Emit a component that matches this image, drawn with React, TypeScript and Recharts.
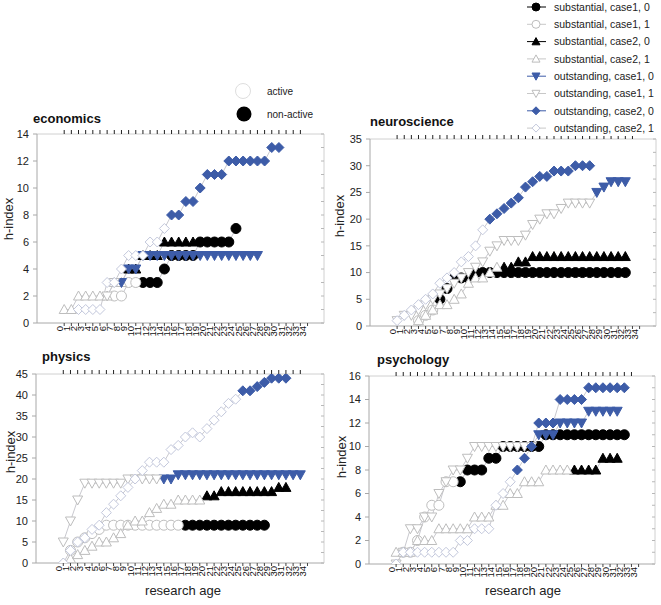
import React from 'react';
import { LineChart, Line, XAxis, YAxis } from 'recharts';

const FONT = '"Liberation Sans", Arial, Helvetica, sans-serif';
const BLUE = '#3d5ca8';
const HOLLOW = '#bdbdbd';
const HOLLOW_D = '#c3c8dc';
const LINE = '#c9c9cf';
const n = null;

const researchAges = [0, 1, 2, 3, 4, 5, 6, 7, 8, 9, 10, 11, 12, 13, 14, 15, 16, 17, 18, 19, 20, 21, 22, 23, 24, 25, 26, 27, 28, 29, 30, 31, 32, 33, 34];
const topTickAges = [0, 1, 2, 3, 4, 5, 6, 7, 8, 9, 10, 11, 12, 13, 14, 15, 16, 17, 18, 19, 20, 21, 22, 23, 24, 25, 26, 27, 28, 29, 30, 31, 32, 33];

// h-index by research age (index = age); switch = first non-active age per group
// group order: substantial case1, substantial case2, outstanding case1, outstanding case2
const econSub1 = [n, n, n, n, n, n, n, 2, 2, 3, 3, 3, 3, 3, 4, 5, 5, 5, 5, 6, 6, 6, 6, 6, 7];
const econSub2 = [1, 1, 2, 2, 2, 2, 2, 3, 3, 4, 4, 5, 5, 5, 6, 6, 6, 6, 6];
const econOut1 = [n, n, n, n, n, n, 2, 3, 3, 4, 4, 5, 5, 5, 5, 5, 5, 5, 5, 5, 5, 5, 5, 5, 5, 5, 5, 5];
const econOut2 = [n, n, 1, 1, 1, 1, 3, 3, 4, 5, 5, 5, 6, 6, 7, 8, 8, 9, 9, 10, 11, 11, 11, 12, 12, 12, 12, 12, 12, 13, 13];
const econSwitch = [11, 9, 8, 15];
const econYTicks = [0, 2, 4, 6, 8, 10, 12, 14];
const econMinor = [0, 1, 2, 3, 4, 5, 6, 7, 8, 9, 10, 11, 12, 13, 14];

const neuroSub1 = [n, n, n, 1, 2, 3, 5, 7, 9, 9, 9, 10, 10, 10, 10, 10, 10, 10, 10, 10, 10, 10, 10, 10, 10, 10, 10, 10, 10, 10, 10, 10, 10];
const neuroSub2 = [n, n, n, 1, 2, 3, 4, 4, 5, 6, 8, 9, 9, 10, 11, 11, 11, 12, 12, 13, 13, 13, 13, 13, 13, 13, 13, 13, 13, 13, 13, 13, 13];
const neuroOut1 = [1, 2, 2, 3, 4, 5, 6, 7, 8, 9, 10, 11, 12, 14, 15, 16, 16, 16, 17, 19, 20, 21, 21, 22, 23, 23, 23, 23, 25, 26, 27, 27, 27];
const neuroOut2 = [1, 2, 3, 4, 5, 6, 8, 9, 10, 12, 13, 15, 18, 20, 21, 22, 23, 24, 26, 27, 28, 28, 29, 29, 29, 30, 30, 30];
const neuroSwitch = [6, 15, 28, 13];
const neuroYTicks = [0, 5, 10, 15, 20, 25, 30, 35];
const neuroMinor = [0, 2.5, 5, 7.5, 10, 12.5, 15, 17.5, 20, 22.5, 25, 27.5, 30, 32.5, 35];

const physSub1 = [n, 3, 5, 6, 7, 8, 9, 9, 9, 9, 9, 9, 9, 9, 9, 9, 9, 9, 9, 9, 9, 9, 9, 9, 9, 9, 9, 9, 9];
const physSub2 = [0, 1, 2, 3, 4, 5, 5, 6, 7, 9, 10, 10, 12, 13, 14, 14, 15, 15, 15, 15, 16, 16, 17, 17, 17, 17, 17, 17, 17, 17, 18, 18];
const physOut1 = [5, 10, 15, 19, 19, 19, 19, 19, 19, 20, 20, 20, 20, 20, 20, 20, 21, 21, 21, 21, 21, 21, 21, 21, 21, 21, 21, 21, 21, 21, 21, 21, 21, 21];
const physOut2 = [0, 3, 5, 6, 8, 9, 12, 14, 16, 18, 20, 22, 24, 24, 24, 27, 28, 30, 31, 30, 32, 34, 36, 38, 39, 41, 41, 42, 43, 44, 44, 44];
const physSwitch = [17, 20, 14, 25];
const physYTicks = [0, 5, 10, 15, 20, 25, 30, 35, 40, 45];
const physMinor = [0, 2.5, 5, 7.5, 10, 12.5, 15, 17.5, 20, 22.5, 25, 27.5, 30, 32.5, 35, 37.5, 40, 42.5, 45];

const psySub1 = [n, 1, 1, 2, 4, 5, 5, 7, 7, 7, 8, 8, 8, 9, 9, 10, 10, 10, 10, 10, 10, 11, 11, 11, 11, 11, 11, 11, 11, 11, 11, 11, 11];
const psySub2 = [1, 1, 1, 2, 2, 2, 3, 3, 3, 3, 3, 4, 4, 4, 5, 5, 6, 6, 7, 7, 7, 8, 8, 8, 8, 8, 8, 8, 8, 9, 9, 9];
const psyOut1 = [0, 1, 3, 3, 4, 4, 6, 7, 8, 8, 9, 10, 10, 10, 10, 10, 10, 10, 10, 10, 11, 11, 11, 12, 12, 12, 12, 13, 13, 13, 13, 13];
const psyOut2 = [0, 1, 1, 1, 1, 1, 1, 1, 1, 2, 2, 3, 3, 3, 5, 6, 7, 8, 9, 10, 12, 12, 12, 14, 14, 14, 14, 15, 15, 15, 15, 15, 15];
const psySwitch = [9, 25, 20, 17];
const psyYTicks = [0, 2, 4, 6, 8, 10, 12, 14, 16];
const psyMinor = [0, 1, 2, 3, 4, 5, 6, 7, 8, 9, 10, 11, 12, 13, 14, 15, 16];

type Kind = 'circle' | 'up' | 'down' | 'diamond';
const KINDS: Kind[] = ['circle', 'up', 'down', 'diamond'];
const X_DOMAIN: [number, number] = [-3.8, 36.3];

function Marker({ cx, cy, kind, filled, blue, s = 5 }: { cx: number; cy: number; kind: Kind; filled: boolean; blue: boolean; s?: number }) {
  const fill = filled ? (blue ? BLUE : '#000') : '#fff';
  const stroke = filled ? fill : kind === 'diamond' ? HOLLOW_D : HOLLOW;
  if (kind === 'circle') return <circle cx={cx} cy={cy} r={s} fill={fill} stroke={stroke} strokeWidth={1} />;
  let pts = '';
  if (kind === 'up') pts = `${cx},${cy - s} ${cx + s},${cy + s * 0.8} ${cx - s},${cy + s * 0.8}`;
  if (kind === 'down') pts = `${cx - s},${cy - s * 0.8} ${cx + s},${cy - s * 0.8} ${cx},${cy + s}`;
  if (kind === 'diamond') pts = `${cx},${cy - s} ${cx + s},${cy} ${cx},${cy + s} ${cx - s},${cy}`;
  return <polygon points={pts} fill={fill} stroke={stroke} strokeWidth={1} />;
}

function split(vals: (number | null)[], sw: number) {
  const active: any[] = [];
  const inactive: any[] = [];
  let linked = false;
  vals.forEach((v, age) => {
    if (v === null) return;
    if (age < sw) active.push({ age, v });
    else {
      if (!linked && active.length) {
        active.push({ age, v, link: true });
        linked = true;
      }
      inactive.push({ age, v });
    }
  });
  return { active, inactive };
}

const AgeTick = (props: any) => {
  const { x, y, payload } = props;
  const tx = x - 1.5;
  return (
    <text x={tx} y={y} transform={`rotate(-90 ${tx} ${y})`} textAnchor="end" fontSize={9.5} fill="#111" fontFamily={FONT}>
      {payload.value}
    </text>
  );
};

interface PanelProps {
  box: [number, number, number, number];
  yMax: number;
  yTicks: number[];
  minor: number[];
  groups: (number | null)[][];
  sw: number[];
}

function Panel({ box, yMax, yTicks, minor, groups, sw }: PanelProps) {
  const [x0, x1, y0, y1] = box;
  const W = x1 - x0 + 50;
  const H = y1 - y0 + 44;
  const lines: React.ReactNode[] = [];
  groups.forEach((vals, g) => {
    const kind = KINDS[g];
    const blue = g >= 2;
    const { active, inactive } = split(vals, sw[g]);
    const dot = (filled: boolean) => (p: any) =>
      p.payload && p.payload.link ? (
        <g key={`k${p.index}`} />
      ) : (
        <Marker key={`m${p.index}`} cx={p.cx} cy={p.cy} kind={kind} filled={filled} blue={blue} />
      );
    lines.push(
      <Line key={`f${g}`} data={inactive} dataKey="v" xAxisId="b" yAxisId="l" stroke={LINE} strokeWidth={1}
        isAnimationActive={false} dot={dot(true)} activeDot={false} />
    );
    lines.push(
      <Line key={`h${g}`} data={active} dataKey="v" xAxisId="b" yAxisId="l" stroke={LINE} strokeWidth={1}
        isAnimationActive={false} dot={dot(false)} activeDot={false} />
    );
  });
  return (
    <div style={{ position: 'absolute', left: x0 - 40, top: y0 - 10 }}>
      <LineChart width={W} height={H} margin={{ top: 9, right: 9, bottom: 14, left: 10 }}>
        <XAxis xAxisId="b" type="number" dataKey="age" domain={X_DOMAIN} ticks={researchAges} interval={0}
          allowDataOverflow height={20} tickSize={3} tickMargin={0} axisLine={{ stroke: '#a8a8a8' }}
          tickLine={{ stroke: '#444' }} tick={<AgeTick />} />
        <XAxis xAxisId="t" orientation="top" type="number" dataKey="age" domain={X_DOMAIN} ticks={topTickAges}
          interval={0} allowDataOverflow height={1} tickSize={4} axisLine={{ stroke: '#d0d0d0' }}
          tickLine={{ stroke: '#222' }} tickFormatter={() => ''} />
        <YAxis yAxisId="l" type="number" domain={[0, yMax]} ticks={yTicks} interval={0} width={30} tickSize={4}
          tickMargin={4} allowDataOverflow axisLine={{ stroke: '#a8a8a8' }} tickLine={{ stroke: '#a8a8a8' }}
          tick={{ fontSize: 11, fill: '#222', fontFamily: FONT }} />
        <YAxis yAxisId="r" orientation="right" mirror type="number" domain={[0, yMax]} ticks={minor} interval={0}
          width={1} tickSize={3} allowDataOverflow axisLine={{ stroke: '#d0d0d0' }} tickLine={{ stroke: '#b8b8b8' }}
          tickFormatter={() => ''} />
        <Line data={[]} dataKey="v" xAxisId="t" yAxisId="r" stroke="none" dot={false} activeDot={false} isAnimationActive={false} />
        {lines}
      </LineChart>
    </div>
  );
}

const legendRows = [
  { g: 0, filled: true, label: 'substantial, case1, 0' },
  { g: 0, filled: false, label: 'substantial, case1, 1' },
  { g: 1, filled: true, label: 'substantial, case2, 0' },
  { g: 1, filled: false, label: 'substantial, case2, 1' },
  { g: 2, filled: true, label: 'outstanding, case1, 0' },
  { g: 2, filled: false, label: 'outstanding, case1, 1' },
  { g: 3, filled: true, label: 'outstanding, case2, 0' },
  { g: 3, filled: false, label: 'outstanding, case2, 1' },
];

function Overlay() {
  const title = { fontSize: 13, fontWeight: 700, fill: '#111', fontFamily: FONT } as const;
  const axisLbl = { fontSize: 13, fill: '#222', fontFamily: FONT } as const;
  return (
    <svg width={661} height={605} style={{ position: 'absolute', left: 0, top: 0, pointerEvents: 'none' }}>
      <text x={33} y={123} {...title}>economics</text>
      <text x={370} y={126} {...title}>neuroscience</text>
      <text x={42} y={361} {...title}>physics</text>
      <text x={377} y={364} {...title}>psychology</text>

      <text x={13} y={219} transform="rotate(-90 13 219)" textAnchor="middle" {...axisLbl}>h-index</text>
      <text x={344} y={216} transform="rotate(-90 344 216)" textAnchor="middle" {...axisLbl}>h-index</text>
      <text x={15} y={452} transform="rotate(-90 15 452)" textAnchor="middle" {...axisLbl}>h-index</text>
      <text x={346} y={457} transform="rotate(-90 346 457)" textAnchor="middle" {...axisLbl}>h-index</text>
      <text x={183} y={595} textAnchor="middle" {...axisLbl}>research age</text>
      <text x={523} y={595} textAnchor="middle" {...axisLbl}>research age</text>

      <circle cx={243} cy={91} r={7.5} fill="#fff" stroke="#dedede" />
      <circle cx={244} cy={114} r={7.5} fill="#000" />
      <text x={267} y={95} fontSize={10} fill="#222" fontFamily={FONT}>active</text>
      <text x={267} y={118} fontSize={10} fill="#222" fontFamily={FONT}>non-active</text>

      <rect x={520} y={0} width={141} height={136} fill="#fff" />
      {legendRows.map((r, i) => {
        const y = 7 + 17.3 * i;
        const lineColor = r.filled ? (r.g >= 2 ? BLUE : '#000') : '#c8c8c8';
        return (
          <g key={r.label}>
            <line x1={527} x2={546} y1={y} y2={y} stroke={lineColor} strokeWidth={1} />
            <Marker cx={536} cy={y} kind={KINDS[r.g]} filled={r.filled} blue={r.g >= 2} s={4} />
            <text x={554} y={y + 3.7} fontSize={10.5} fill="#222" fontFamily={FONT}>{r.label}</text>
          </g>
        );
      })}
    </svg>
  );
}

export default function App() {
  return (
    <div style={{ position: 'absolute', left: 0, top: 0, width: 661, height: 605, background: '#fff', fontFamily: FONT }}>
      <Panel box={[37, 323, 134, 323]} yMax={14} yTicks={econYTicks} minor={econMinor}
        groups={[econSub1, econSub2, econOut1, econOut2]} sw={econSwitch} />
      <Panel box={[370, 655, 139, 326]} yMax={35} yTicks={neuroYTicks} minor={neuroMinor}
        groups={[neuroSub1, neuroSub2, neuroOut1, neuroOut2]} sw={neuroSwitch} />
      <Panel box={[36, 323, 374, 563]} yMax={45} yTicks={physYTicks} minor={physMinor}
        groups={[physSub1, physSub2, physOut1, physOut2]} sw={physSwitch} />
      <Panel box={[369, 654, 376, 564]} yMax={16} yTicks={psyYTicks} minor={psyMinor}
        groups={[psySub1, psySub2, psyOut1, psyOut2]} sw={psySwitch} />
      <Overlay />
    </div>
  );
}
